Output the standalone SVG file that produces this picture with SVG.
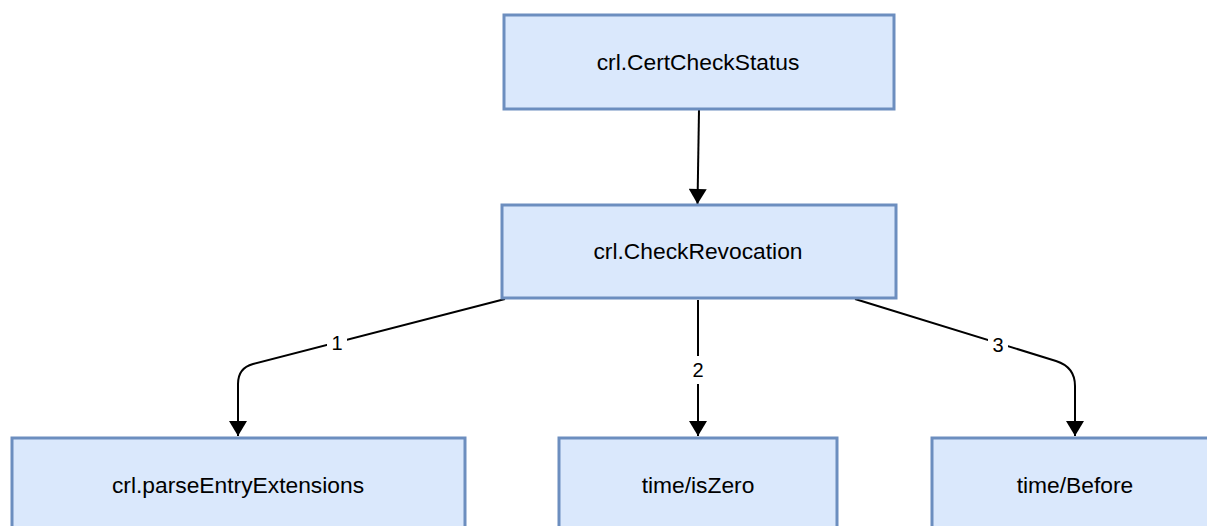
<svg xmlns="http://www.w3.org/2000/svg" width="1207" height="526" viewBox="0 0 1207 526">
  <style>
    .box { fill: #dae8fc; stroke: #6c8ebf; stroke-width: 3; }
    .label { font-family: "Liberation Sans", Arial, sans-serif; font-size: 22.8px; fill: #000; text-anchor: middle; }
    .edge { fill: none; stroke: #000; stroke-width: 2; }
    .elabel { font-family: "Liberation Sans", Arial, sans-serif; font-size: 20px; fill: #000; text-anchor: middle; }
  </style>
  <defs>
    <marker id="arrow" markerUnits="userSpaceOnUse" markerWidth="18" markerHeight="18" viewBox="0 0 16 18" refX="15" refY="9" orient="auto">
      <path d="M0,0 L15,9 L0,18 Z" fill="#000"/>
    </marker>
  </defs>
  <rect width="1207" height="526" fill="#fff"/>

  <g id="connectors">
    <path class="edge" d="M699,110 L697.5,204" marker-end="url(#arrow)"/>
    <path class="edge" d="M505,299 L253,364 Q238,368 238,384 L238,436" marker-end="url(#arrow)"/>
    <path class="edge" d="M698,300 L698,436" marker-end="url(#arrow)"/>
    <path class="edge" d="M855,299 L1056,361 Q1075,367 1075,386 L1075,436" marker-end="url(#arrow)"/>
    <rect x="327" y="330" width="20" height="26" fill="#fff"/>
    <text class="elabel" x="337" y="350">1</text>
    <rect x="688" y="356" width="20" height="28" fill="#fff"/>
    <text class="elabel" x="698" y="377">2</text>
    <rect x="988" y="333" width="20" height="26" fill="#fff"/>
    <text class="elabel" x="998" y="352">3</text>
  </g>

  <g id="node-certcheckstatus">
    <rect class="box" x="504" y="15" width="390" height="94"/>
    <text class="label" x="698" y="70">crl.CertCheckStatus</text>
  </g>
  <g id="node-checkrevocation">
    <rect class="box" x="502" y="205" width="394" height="93"/>
    <text class="label" x="698" y="259">crl.CheckRevocation</text>
  </g>
  <g id="node-parseentryextensions">
    <rect class="box" x="12" y="438" width="453" height="100"/>
    <text class="label" x="238" y="493">crl.parseEntryExtensions</text>
  </g>
  <g id="node-iszero">
    <rect class="box" x="559" y="438" width="278" height="100"/>
    <text class="label" x="698" y="493">time/isZero</text>
  </g>
  <g id="node-before">
    <rect class="box" x="932" y="438" width="290" height="100"/>
    <text class="label" x="1075" y="493">time/Before</text>
  </g>
</svg>
